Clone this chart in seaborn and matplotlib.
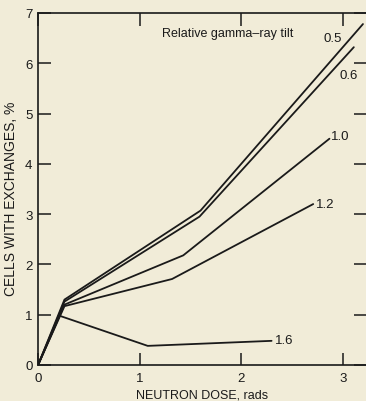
import matplotlib
matplotlib.use("Agg")
import matplotlib.pyplot as plt
import seaborn as sns
import pandas as pd

# Curves for each relative gamma-ray tilt: (neutron dose, % cells with exchanges)
tilts = ["0.5", "0.6", "1.0", "1.2", "1.6"]
dose_05 = [0.0, 0.26, 1.60, 3.20]
pct_05 = [0.0, 1.30, 3.07, 6.78]
dose_06 = [0.0, 0.26, 1.59, 3.11]
pct_06 = [0.0, 1.26, 2.95, 6.32]
dose_10 = [0.0, 0.26, 1.43, 2.87]
pct_10 = [0.0, 1.20, 2.18, 4.50]
dose_12 = [0.0, 0.26, 1.32, 2.71]
pct_12 = [0.0, 1.17, 1.71, 3.20]
dose_16 = [0.0, 0.21, 1.08, 2.30]
pct_16 = [0.0, 0.98, 0.38, 0.48]

xticks = [0, 1, 2, 3]
yticks = [0, 1, 2, 3, 4, 5, 6, 7]

doses = [dose_05, dose_06, dose_10, dose_12, dose_16]
pcts = [pct_05, pct_06, pct_10, pct_12, pct_16]
frames = []
for t, d, p in zip(tilts, doses, pcts):
    frames.append(pd.DataFrame({"tilt": t, "dose": d, "pct": p}))
df = pd.concat(frames, ignore_index=True)

sns.set_style("ticks")
plt.rcParams["font.family"] = ["Liberation Sans", "DejaVu Sans"]
bg = "#f1ecd8"
ink = "#1a1a1a"

fig = plt.figure(figsize=(3.66, 4.02), dpi=100, facecolor=bg)
ax = fig.add_axes([0.104, 0.0896, 0.896, 0.8756], facecolor=bg)

sns.lineplot(data=df, x="dose", y="pct", hue="tilt", units="tilt",
             palette=[ink] * len(tilts), estimator=None, sort=False,
             linewidth=1.3, legend=False, ax=ax)

# Label beside the end of each curve
label_pos = {"0.5": (2.90, 6.50), "0.6": (3.06, 5.77), "1.0": (2.98, 4.55),
             "1.2": (2.83, 3.20), "1.6": (2.42, 0.50)}
for t in tilts:
    lx, ly = label_pos[t]
    ax.text(lx, ly, t, fontsize=9.5, ha="center", va="center", color=ink)

ax.text(1.87, 6.60, "Relative gamma\u2013ray tilt", fontsize=9, ha="center",
        va="center", color=ink)

ax.set_xlim(0, 3.23)
ax.set_ylim(0, 7)
ax.set_xticks(xticks)
ax.set_yticks(yticks)
ax.set_xlabel("NEUTRON DOSE, rads", fontsize=9, labelpad=3, color=ink)
ax.set_ylabel("CELLS WITH EXCHANGES, %", fontsize=10, color=ink)
ax.yaxis.set_label_coords(-0.06, 0.475)

for side in ["left", "bottom", "top"]:
    ax.spines[side].set_visible(True)
    ax.spines[side].set_linewidth(1.2)
    ax.spines[side].set_color(ink)
ax.spines["right"].set_visible(False)

ax.tick_params(axis="both", which="both", direction="in", length=9, width=1.1,
               top=True, right=True, labelsize=9.5, colors=ink)
ax.tick_params(axis="x", pad=5)
ax.tick_params(axis="y", pad=4)

fig.savefig("out.png", dpi=100, facecolor=bg)
